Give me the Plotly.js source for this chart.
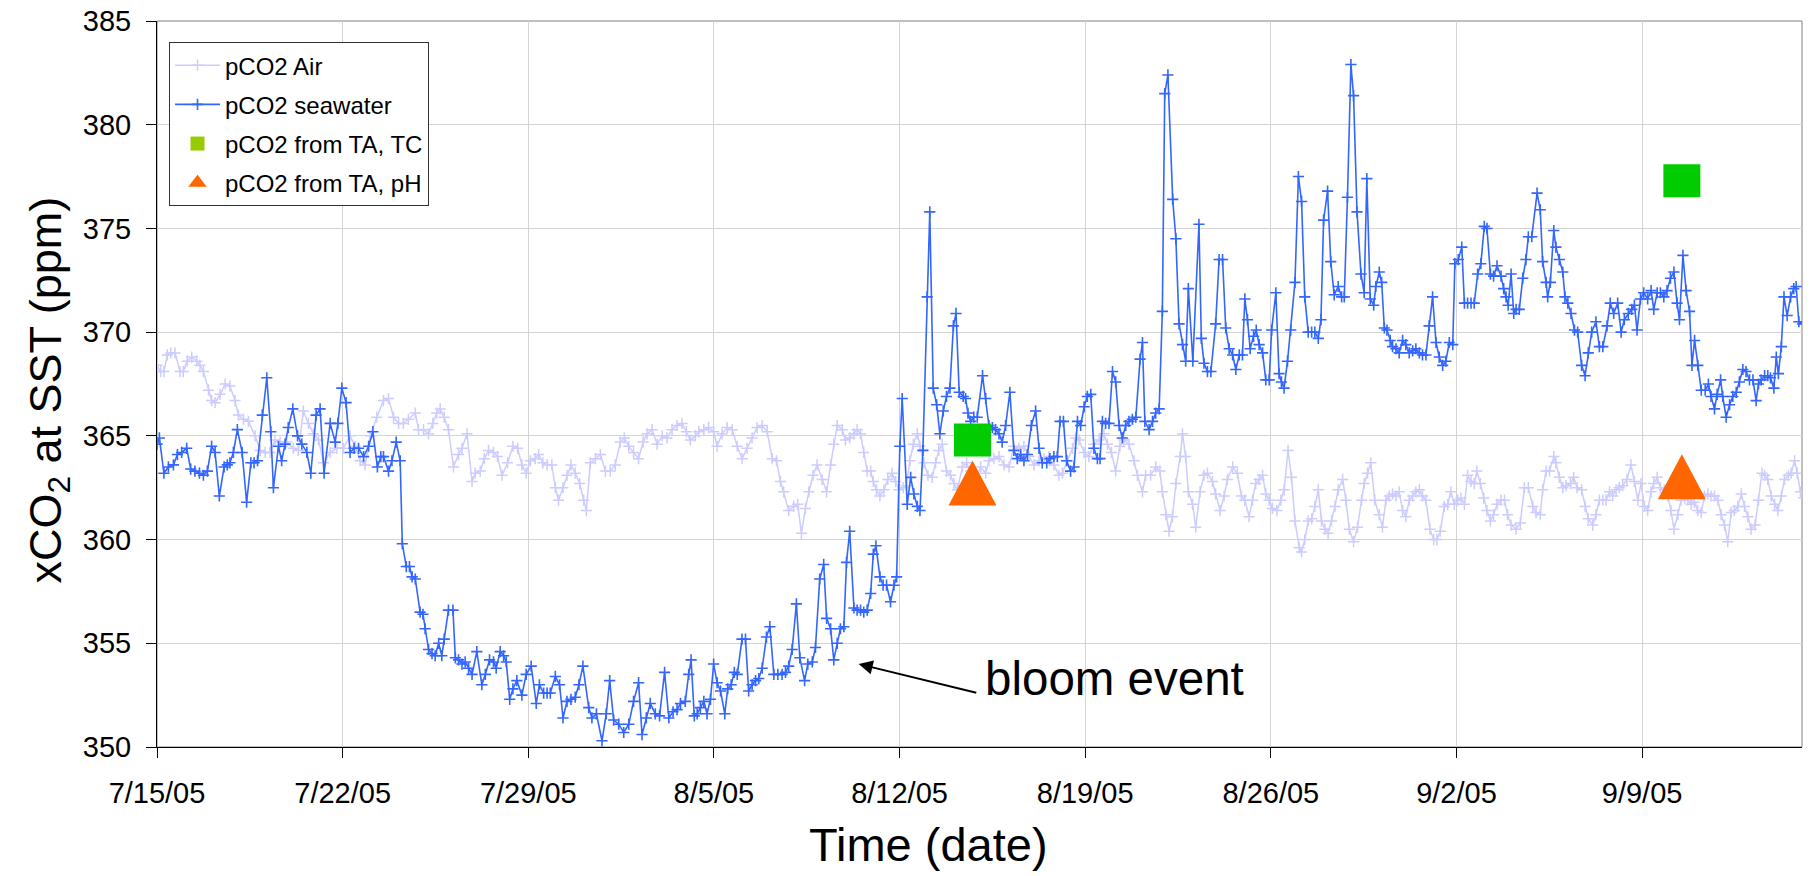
<!DOCTYPE html>
<html>
<head>
<meta charset="utf-8">
<script src="https://cdn.plot.ly/plotly-3.0.1.min.js"></script>
<style>
  html, body { margin: 0; padding: 0; background: #ffffff; }
  #chart { width: 1817px; height: 876px; }
</style>
</head>
<body>
<div id="chart"></div>
<script>
// Time axis: decimal days counted from 7/15/05 00:00
const START = Date.UTC(2005, 6, 15);
const DAY = 86400000;
const X_END_DAYS = 62.03;

const tickFormat = '%-m/%-d/%y';

// pCO2 Air
const airDay = [0.00,0.14,0.26,0.39,0.52,0.68,0.87,0.99,1.14,1.31,1.50,1.62,1.75,1.94,2.06,2.19,2.38,2.57,2.75,2.94,3.07,3.26,3.45,3.70,3.89,4.08,4.26,4.45,4.64,4.89,5.14,5.33,5.52,5.71,5.90,6.09,6.28,6.53,6.78,7.03,7.28,7.47,7.66,7.85,8.04,8.29,8.54,8.73,8.92,9.11,9.29,9.48,9.74,9.86,10.05,10.24,10.40,10.55,10.68,10.83,10.99,11.18,11.37,11.50,11.69,11.88,12.00,12.19,12.34,12.50,12.69,12.84,13.01,13.22,13.42,13.60,13.76,13.92,14.08,14.26,14.39,14.55,14.71,14.89,15.02,15.14,15.31,15.46,15.61,15.77,15.94,16.09,16.19,16.34,16.53,16.72,16.91,17.09,17.28,17.47,17.62,17.79,17.97,18.16,18.33,18.48,18.67,18.86,19.05,19.23,19.42,19.61,19.80,19.96,20.11,20.30,20.43,20.62,20.80,20.99,21.12,21.31,21.50,21.69,21.88,22.06,22.25,22.44,22.63,22.82,23.01,23.20,23.36,23.51,23.63,23.82,24.01,24.16,24.30,24.45,24.58,24.74,24.89,25.08,25.25,25.40,25.52,25.65,25.84,25.96,26.12,26.28,26.40,26.53,26.65,26.78,26.91,27.01,27.13,27.26,27.41,27.56,27.72,27.85,27.97,28.14,28.26,28.39,28.52,28.67,28.77,28.92,29.07,29.23,29.36,29.48,29.61,29.77,29.92,30.05,30.18,30.37,30.53,30.68,30.87,31.06,31.25,31.37,31.56,31.75,31.94,32.13,32.31,32.50,32.69,32.88,33.07,33.26,33.45,33.63,33.82,34.01,34.14,34.33,34.52,34.64,34.77,34.96,35.14,35.33,35.52,35.71,35.84,35.99,36.15,36.31,36.46,36.65,36.84,36.97,37.16,37.28,37.47,37.66,37.82,37.91,38.04,38.16,38.29,38.42,38.58,38.67,38.79,38.89,39.05,39.17,39.33,39.48,39.61,39.80,39.92,40.09,40.24,40.36,40.56,40.74,40.89,41.02,41.18,41.31,41.43,41.56,41.69,41.81,41.94,42.06,42.23,42.38,42.50,42.65,42.78,42.91,43.07,43.16,43.28,43.41,43.54,43.66,43.79,43.91,44.04,44.16,44.29,44.42,44.54,44.71,44.83,44.96,45.12,45.27,45.42,45.52,45.65,45.77,45.92,46.09,46.21,46.34,46.47,46.59,46.72,46.84,46.97,47.09,47.22,47.35,47.47,47.60,47.72,47.85,48.00,48.14,48.26,48.39,48.54,48.67,48.79,48.92,49.05,49.17,49.30,49.42,49.55,49.67,49.77,49.90,50.03,50.15,50.28,50.40,50.53,50.68,50.81,50.93,51.06,51.25,51.41,51.56,51.71,51.88,52.00,52.16,52.25,52.38,52.51,52.67,52.75,52.88,53.01,53.13,53.30,53.42,53.55,53.72,53.85,53.97,54.14,54.26,54.39,54.52,54.64,54.77,54.89,55.02,55.14,55.27,55.43,55.58,55.71,55.84,55.96,56.09,56.21,56.34,56.44,56.57,56.69,56.84,56.97,57.09,57.20,57.35,57.47,57.60,57.72,57.85,57.97,58.10,58.23,58.35,58.48,58.60,58.73,58.86,58.98,59.11,59.23,59.36,59.48,59.61,59.74,59.86,59.99,60.11,60.26,60.39,60.52,60.62,60.74,60.87,61.00,61.12,61.25,61.37,61.52,61.62,61.75,61.85,61.97,62.10,62.25];
const airPpm = [368.4,368.1,368.1,368.9,369.0,369.0,368.1,368.1,368.6,368.8,368.6,368.4,368.1,367.2,366.7,366.6,367.0,367.5,367.4,366.7,366.0,365.8,365.7,365.0,364.3,364.2,364.2,364.8,364.7,364.7,364.4,364.3,366.2,365.6,365.1,364.8,363.7,364.2,364.4,364.4,365.0,364.5,363.8,363.6,365.0,365.9,366.7,366.8,365.9,365.6,365.6,365.8,366.1,365.3,365.3,365.1,365.6,366.1,366.3,365.9,365.3,363.5,364.1,364.4,365.1,362.8,363.2,363.3,363.9,364.3,364.2,364.0,363.1,363.7,364.5,364.4,363.6,363.2,363.8,363.9,364.1,363.7,363.6,363.6,362.5,361.9,362.5,363.1,363.6,363.2,362.7,361.9,361.4,363.7,363.9,364.1,363.3,363.3,363.6,364.7,364.9,364.5,364.2,363.9,364.7,365.1,365.3,364.6,365.0,364.9,365.3,365.5,365.6,365.2,364.8,365.0,365.2,365.3,365.4,365.2,364.5,365.1,365.4,365.3,364.5,363.9,364.4,364.9,365.4,365.5,365.2,363.9,363.8,362.8,362.3,361.4,361.6,361.7,360.3,361.5,362.3,363.1,363.6,362.9,362.3,363.6,364.6,365.5,365.3,364.8,364.9,365.1,365.3,365.1,364.2,363.3,363.3,362.8,362.4,362.1,362.4,362.9,363.2,362.8,362.4,362.5,362.6,363.8,364.6,365.1,364.5,363.7,363.1,363.0,363.7,364.3,364.6,363.3,363.1,362.7,362.4,363.5,363.7,363.3,362.9,363.5,363.2,363.8,363.9,364.0,363.6,363.5,364.5,364.4,364.5,364.0,363.6,363.8,363.9,364.0,363.6,363.1,363.2,363.8,364.4,364.9,364.8,364.2,364.0,364.6,364.8,365.1,364.6,364.2,363.3,364.5,364.8,364.6,363.8,363.1,362.3,363.1,363.1,363.5,363.3,362.3,361.2,360.4,361.1,362.7,364.0,365.1,364.0,362.3,361.7,360.6,362.3,363.1,363.2,362.8,362.2,361.4,362.1,362.9,363.5,363.2,362.1,361.9,361.1,361.9,362.7,362.9,363.1,362.2,361.9,361.5,361.4,361.9,362.4,364.3,363.0,360.9,359.6,359.4,360.0,360.9,361.0,361.6,362.4,360.9,360.5,360.3,360.9,361.6,362.4,362.9,361.9,360.5,359.9,360.6,361.9,362.7,363.2,363.7,361.9,361.2,360.6,361.9,362.1,362.2,362.1,362.3,361.4,361.1,361.9,362.1,362.3,362.4,362.1,361.9,360.5,360.0,360.0,360.4,361.6,361.7,362.3,361.7,361.9,362.0,361.7,363.1,362.8,362.7,363.3,362.7,362.0,361.4,360.9,361.2,361.7,361.9,361.9,361.2,360.7,360.5,360.8,362.5,362.5,361.6,361.3,361.2,362.4,363.3,363.3,364.0,363.7,363.0,362.5,362.6,362.7,363.0,362.5,362.4,361.6,361.0,360.7,361.2,361.9,361.9,361.9,362.3,362.1,362.4,362.5,362.6,362.9,363.6,362.8,361.9,362.7,361.6,361.4,362.3,362.7,363.0,362.5,362.4,362.1,361.4,360.5,361.2,361.9,362.0,361.9,361.7,361.8,361.4,361.3,362.1,362.2,362.1,362.1,361.9,361.2,360.7,359.9,361.3,361.4,361.6,362.2,361.6,361.1,360.5,360.7,361.9,363.2,363.1,362.9,362.1,361.7,361.4,362.1,362.9,363.1,363.2,363.8,363.2,362.3,362.0,361.7];

// pCO2 seawater
const seaDay = [0.00,0.09,0.26,0.43,0.62,0.77,0.93,1.12,1.27,1.43,1.60,1.75,1.90,2.06,2.19,2.35,2.53,2.65,2.75,2.88,3.03,3.21,3.38,3.54,3.66,3.79,3.97,4.14,4.29,4.39,4.58,4.70,4.83,4.95,5.12,5.30,5.46,5.65,5.80,6.00,6.15,6.30,6.53,6.72,6.82,6.97,7.13,7.28,7.43,7.60,7.79,7.98,8.14,8.31,8.44,8.54,8.73,8.86,9.02,9.17,9.25,9.40,9.52,9.62,9.74,9.92,10.03,10.11,10.24,10.37,10.49,10.62,10.74,10.83,10.99,11.16,11.25,11.37,11.50,11.62,11.75,11.88,12.06,12.25,12.38,12.54,12.69,12.79,12.94,13.07,13.17,13.30,13.42,13.57,13.76,13.92,14.11,14.30,14.42,14.58,14.71,14.83,15.02,15.18,15.31,15.46,15.61,15.77,15.91,16.06,16.28,16.40,16.57,16.78,16.94,17.07,17.22,17.41,17.60,17.79,17.97,18.16,18.29,18.45,18.60,18.79,18.95,19.14,19.30,19.46,19.61,19.74,19.92,20.05,20.14,20.26,20.37,20.49,20.62,20.74,20.87,20.99,21.12,21.25,21.41,21.52,21.65,21.77,21.88,22.06,22.19,22.31,22.44,22.57,22.69,22.82,22.98,23.11,23.26,23.41,23.57,23.70,23.82,23.95,24.11,24.24,24.42,24.54,24.71,24.83,24.99,25.14,25.25,25.40,25.52,25.65,25.77,25.90,26.00,26.12,26.28,26.40,26.53,26.65,26.78,26.91,27.01,27.11,27.26,27.38,27.51,27.66,27.79,27.89,28.01,28.10,28.29,28.42,28.54,28.67,28.77,28.88,29.04,29.14,29.27,29.40,29.52,29.65,29.77,29.90,30.03,30.13,30.25,30.40,30.49,30.58,30.68,30.80,30.93,31.13,31.25,31.37,31.50,31.62,31.75,31.87,32.00,32.16,32.31,32.44,32.57,32.69,32.82,32.97,33.13,33.26,33.38,33.55,33.67,33.82,33.95,34.05,34.18,34.30,34.45,34.58,34.71,34.83,34.96,35.08,35.21,35.33,35.46,35.56,35.65,35.77,35.90,36.03,36.15,36.28,36.40,36.53,36.65,36.78,36.91,37.07,37.16,37.25,37.41,37.54,37.66,37.79,37.91,38.00,38.12,38.30,38.42,38.54,38.67,38.79,38.89,39.06,39.29,39.38,39.48,39.61,39.74,39.92,40.05,40.18,40.30,40.43,40.56,40.68,40.81,40.93,41.02,41.12,41.22,41.35,41.45,41.56,41.69,41.81,41.94,42.03,42.19,42.31,42.40,42.50,42.63,42.75,42.91,43.04,43.16,43.28,43.41,43.54,43.66,43.79,43.89,43.99,44.14,44.26,44.39,44.54,44.67,44.77,44.89,45.02,45.12,45.25,45.40,45.52,45.62,45.75,45.88,45.96,46.09,46.18,46.28,46.38,46.50,46.59,46.72,46.84,46.97,47.09,47.22,47.35,47.47,47.60,47.72,47.85,47.97,48.10,48.23,48.35,48.48,48.60,48.73,48.86,48.94,49.07,49.20,49.30,49.42,49.55,49.67,49.80,49.92,50.05,50.15,50.28,50.40,50.53,50.68,50.78,50.87,50.95,51.06,51.16,51.25,51.37,51.50,51.62,51.71,51.84,52.04,52.16,52.25,52.38,52.44,52.54,52.67,52.75,52.88,53.01,53.09,53.20,53.32,53.45,53.57,53.72,53.85,53.97,54.10,54.26,54.39,54.52,54.68,54.80,54.93,55.08,55.21,55.33,55.48,55.61,55.71,55.81,55.94,56.06,56.21,56.34,56.44,56.57,56.69,56.82,56.94,57.07,57.20,57.32,57.41,57.54,57.66,57.79,57.88,57.98,58.10,58.23,58.38,58.50,58.60,58.73,58.83,58.96,59.04,59.17,59.30,59.42,59.55,59.67,59.80,59.92,60.05,60.18,60.30,60.39,60.49,60.62,60.74,60.84,60.97,61.06,61.14,61.25,61.35,61.47,61.60,61.72,61.81,61.91,62.06,62.37];
const seaPpm = [364.6,364.9,363.2,363.5,363.6,364.1,364.2,364.4,363.4,363.3,363.2,363.1,363.3,364.5,364.2,362.1,363.5,363.6,363.7,364.2,365.3,364.2,361.8,363.7,363.7,363.8,366.0,367.8,365.2,362.5,364.5,363.8,364.6,365.4,366.3,365.0,364.6,364.2,363.2,366.0,366.3,363.2,365.6,364.7,365.6,367.3,366.6,364.2,364.4,364.4,364.0,364.5,365.2,363.5,364.0,364.0,363.3,363.8,364.7,363.8,359.8,358.7,358.7,358.2,358.1,356.5,356.4,355.7,354.7,354.5,354.4,355.0,354.4,355.2,356.6,356.6,354.3,354.2,354.0,354.1,353.8,353.5,354.6,353.0,353.5,354.2,354.1,353.8,354.6,354.4,354.1,352.3,352.8,353.2,352.5,353.5,353.9,352.1,353.0,352.6,352.6,352.6,353.4,353.0,351.4,352.2,352.3,352.4,353.0,353.9,351.9,351.4,351.6,350.3,351.6,353.2,351.3,351.1,350.7,351.1,352.2,353.1,350.6,351.4,352.1,351.6,351.5,353.6,351.4,351.7,351.8,352.1,352.2,353.5,354.2,351.5,351.6,351.9,352.2,351.6,352.3,354.0,353.1,352.7,351.6,352.8,353.0,353.6,353.5,355.2,355.2,352.7,353.0,353.2,353.3,353.8,355.3,355.8,353.5,353.5,353.5,353.6,353.9,354.7,356.9,354.3,353.2,354.0,354.1,354.8,358.1,358.8,356.2,355.7,354.2,355.0,355.7,355.8,358.9,360.4,356.7,356.6,356.6,356.5,356.6,357.4,359.3,359.7,358.2,357.8,357.8,357.0,357.8,358.2,364.5,366.8,361.7,363.0,362.2,361.6,361.4,364.3,371.7,375.8,367.3,366.5,365.1,366.2,366.9,367.3,370.3,370.9,367.1,366.9,366.8,366.1,365.7,365.9,365.9,367.9,366.8,365.5,365.4,365.3,365.1,364.7,365.5,367.1,364.3,363.9,364.1,363.8,364.1,365.5,366.2,364.4,363.7,363.7,363.9,364.0,364.0,365.7,365.7,363.8,363.3,363.5,365.7,365.5,366.4,366.9,367.0,364.4,363.9,363.9,365.7,365.6,365.6,368.1,367.6,365.5,364.9,365.5,365.7,365.8,365.9,368.7,369.5,365.7,365.3,365.7,366.1,366.3,371.0,381.5,382.4,376.4,374.5,370.4,369.4,368.6,372.1,368.6,375.2,369.7,368.5,368.1,368.1,370.4,373.5,373.5,370.2,369.2,368.9,368.2,368.9,368.9,371.6,370.6,369.2,369.8,370.1,369.4,369.0,367.7,367.7,370.1,371.9,368.0,367.6,367.3,368.6,370.1,372.4,377.5,376.3,371.7,370.0,370.0,370.0,369.7,370.6,375.4,376.8,373.4,371.8,372.2,371.7,371.7,376.5,382.9,381.4,375.8,372.8,371.9,377.4,371.6,371.3,372.2,372.9,372.4,370.2,370.1,369.6,369.3,369.2,369.0,369.6,369.4,369.0,369.1,369.2,369.0,368.9,368.9,370.3,371.7,369.5,368.8,368.4,368.6,369.5,369.4,373.3,373.5,374.1,371.4,371.4,371.4,371.4,372.8,373.3,375.1,375.0,372.8,372.7,373.2,372.7,372.1,371.7,371.3,372.8,370.9,371.1,371.1,372.6,373.5,374.6,374.6,376.7,375.9,373.4,372.4,371.7,372.4,374.9,374.1,373.5,372.9,371.7,371.4,370.9,370.1,370.0,368.4,367.9,369.0,370.0,370.5,369.3,369.3,370.3,371.4,370.9,371.4,370.0,370.6,370.9,371.1,371.3,370.1,371.6,371.9,371.6,372.0,371.1,371.9,371.9,371.7,372.0,372.6,372.9,371.4,370.6,373.7,372.0,371.0,368.4,369.6,368.4,367.2,367.2,367.5,366.9,366.3,367.0,367.7,366.9,365.9,366.5,366.9,367.1,367.6,368.2,368.1,367.7,367.7,366.7,367.5,367.7,367.9,367.9,367.8,367.3,368.8,368.0,369.3,371.7,370.8,371.7,372.1,372.2,370.5,370.4,368.5];

// Bottle samples: pCO2 computed from TA, TC and from TA, pH
const tcDay = [30.75, 57.50];
const tcPpm = [364.8, 377.3];
const phDay = [30.75, 57.50];
const phPpm = [362.7, 363.0];

// Y axis
const yRange = [350, 385];
const yStep = 5;

function stamp(days) {
  return new Date(START + days * DAY).toISOString().slice(0, 19).replace('T', ' ');
}
const toStamps = arr => arr.map(stamp);

const FONT = 'Liberation Sans, Arial, Helvetica, sans-serif';
const AIR = '#CCCCFF';
const SEA = '#3366FF';
const TC_LEGEND = '#99CC00';
const TC_MARK = '#00CC00';
const PH = '#FF6600';

const traces = [
  {
    name: 'pCO2 Air', legendgroup: 'a',
    x: toStamps(airDay), y: airPpm,
    type: 'scatter', mode: 'lines+markers',
    line: { color: AIR, width: 1.5 },
    marker: { symbol: 'cross-thin', size: 8, color: AIR, line: { color: AIR, width: 1.5 } }
  },
  {
    name: 'pCO2 seawater', legendgroup: 'b',
    x: toStamps(seaDay), y: seaPpm,
    type: 'scatter', mode: 'lines+markers',
    line: { color: SEA, width: 1.6 },
    marker: { symbol: 'cross-thin', size: 8, color: SEA, line: { color: SEA, width: 1.6 } }
  },
  {
    name: 'pCO2 from TA, TC', legendgroup: 'c',
    x: toStamps(tcDay), y: tcPpm,
    type: 'scatter', mode: 'markers',
    marker: { symbol: 'square', size: 14, color: TC_LEGEND, line: { width: 0 } }
  },
  {
    name: 'pCO2 from TA, pH', legendgroup: 'd',
    x: toStamps(phDay), y: phPpm,
    type: 'scatter', mode: 'markers',
    marker: { symbol: 'triangle-up', size: 16, color: PH, line: { width: 0 } }
  }
];

// Large sample markers drawn as pixel-sized shapes anchored on the sample values
const shapes = [
  {
    type: 'rect', xref: 'paper', yref: 'paper', x0: 0, x1: 1, y0: 0, y1: 1,
    line: { color: '#808080', width: 1 }, fillcolor: 'rgba(0,0,0,0)', layer: 'below'
  }
];
tcDay.forEach((d, i) => shapes.push({
  type: 'path', xref: 'x', yref: 'y',
  xsizemode: 'pixel', ysizemode: 'pixel',
  xanchor: stamp(d), yanchor: tcPpm[i],
  path: 'M-18.5,-16.5 H18.5 V16.5 H-18.5 Z',
  fillcolor: TC_MARK, line: { width: 0 }, layer: 'above'
}));
phDay.forEach((d, i) => shapes.push({
  type: 'path', xref: 'x', yref: 'y',
  xsizemode: 'pixel', ysizemode: 'pixel',
  xanchor: stamp(d), yanchor: phPpm[i],
  path: 'M-24,-22 L24,-22 L0,23 Z',
  fillcolor: PH, line: { width: 0 }, layer: 'above'
}));

// "bloom event" callout
const bloomTip = { day: 26.46, ppm: 354.0 };
const bloomTail = { day: 30.95, ppm: 352.6 };
const bloomText = { day: 31.16, ppm: 353.3 };

const annotations = [
  {
    x: stamp(bloomTip.day), y: bloomTip.ppm, xref: 'x', yref: 'y',
    ax: stamp(bloomTail.day), ay: bloomTail.ppm, axref: 'x', ayref: 'y',
    text: '', showarrow: true, arrowhead: 2, arrowsize: 1.4, arrowwidth: 2,
    arrowcolor: '#000000', standoff: 0, startstandoff: 0
  },
  {
    x: stamp(bloomText.day), y: bloomText.ppm, xref: 'x', yref: 'y',
    text: 'bloom event', showarrow: false, xanchor: 'left', yanchor: 'middle',
    font: { family: FONT, size: 47.5, color: '#000000' }
  },
  {
    x: -0.0658, y: 0.492, xref: 'paper', yref: 'paper',
    text: 'xCO<sub>2</sub> at SST (ppm)', textangle: -90, showarrow: false,
    xanchor: 'center', yanchor: 'middle',
    font: { family: FONT, size: 45, color: '#000000' }
  },
  {
    x: 0.469, y: -0.134, xref: 'paper', yref: 'paper',
    text: 'Time (date)', showarrow: false,
    xanchor: 'center', yanchor: 'middle',
    font: { family: FONT, size: 47, color: '#000000' }
  }
];

const layout = {
  width: 1817, height: 876,
  margin: { l: 157, r: 15, t: 21, b: 129 },
  paper_bgcolor: '#ffffff', plot_bgcolor: '#ffffff',
  font: { family: FONT, color: '#000000' },
  showlegend: true,
  legend: {
    x: 0.0073, y: 0.971, xanchor: 'left', yanchor: 'top',
    bgcolor: '#ffffff', bordercolor: '#333333', borderwidth: 1,
    font: { family: FONT, size: 24, color: '#000000' },
    traceorder: 'grouped', tracegroupgap: 5, itemwidth: 45
  },
  xaxis: {
    type: 'date',
    range: [stamp(0), stamp(X_END_DAYS)],
    tick0: stamp(0), dtick: 7 * DAY, tickformat: tickFormat,
    ticks: 'outside', ticklen: 10, tickwidth: 1, tickcolor: '#000000',
    tickfont: { family: FONT, size: 29, color: '#000000' },
    ticklabelstandoff: 10,
    showline: true, linecolor: '#000000', linewidth: 1,
    showgrid: true, gridcolor: '#d4d4d4', gridwidth: 1,
    zeroline: false, automargin: false
  },
  yaxis: {
    range: yRange, dtick: yStep, tick0: 350,
    ticks: 'outside', ticklen: 10, tickwidth: 1, tickcolor: '#000000',
    tickfont: { family: FONT, size: 29, color: '#000000' },
    ticklabelstandoff: 9,
    showline: true, linecolor: '#000000', linewidth: 1,
    showgrid: true, gridcolor: '#d4d4d4', gridwidth: 1,
    zeroline: false, automargin: false
  },
  shapes: shapes,
  annotations: annotations
};

Plotly.newPlot('chart', traces, layout, { displayModeBar: false, staticPlot: true });
</script>
</body>
</html>
